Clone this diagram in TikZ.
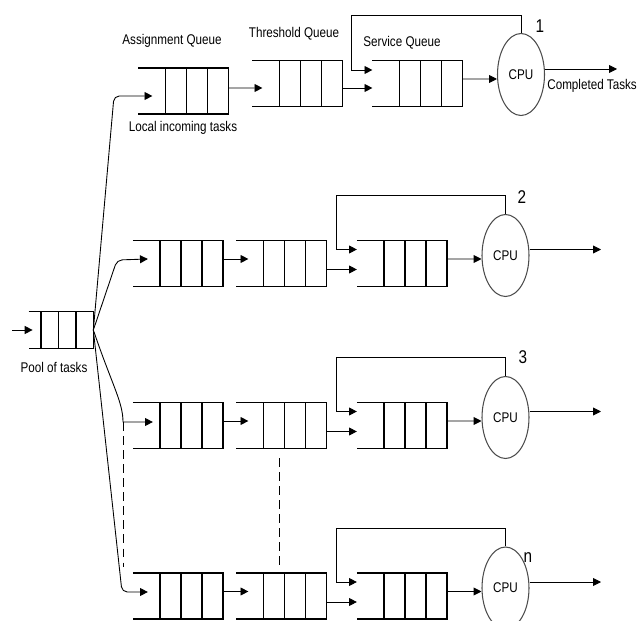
\documentclass[tikz,border=0pt]{standalone}
\usepackage{fontspec}
\setmainfont{Liberation Sans}
\newfontfamily\narrowsans[FakeStretch=0.83]{Liberation Sans}
\usetikzlibrary{arrows.meta,shapes.geometric,calc}

\tikzset{
  queue/.style={minimum width=1.79cm, minimum height=0.9cm, inner sep=0pt},
  qline/.style={line width=0.8pt},
  arr/.style={line width=0.5pt, -{Triangle[length=4.5pt,width=4.5pt]}},
  cpu/.style={ellipse, draw=black!70, line width=0.6pt, minimum width=0.94cm,
    minimum height=1.64cm, inner sep=0pt, font=\narrowsans\fontsize{8}{9}\selectfont},
  lbl/.style={font=\narrowsans\fontsize{8}{9}\selectfont, inner sep=0pt},
  num/.style={font=\narrowsans\fontsize{10.5}{11}\selectfont, inner sep=0pt},
}

% top, bottom and right side of a queue, plus its cells
\newcommand{\queuelines}[2]{%
  \draw[qline] (#1.north west) -- (#1.north east) -- (#1.south east) -- (#1.south west);
  \foreach \k in {1,2,3}
    \draw[qline] ($(#1.north east)-(\k*#2,0)$) -- ($(#1.south east)-(\k*#2,0)$);
}

\begin{document}
\begin{tikzpicture}[x=0.02cm, y=-0.02cm]
    \useasboundingbox (0,0) rectangle (639,621);

    % Pool of tasks
    \node[queue, minimum width=1.28cm, minimum height=0.72cm] (pool) at (61,330) {};
    \queuelines{pool}{17.5}
    \coordinate (in) at (12,330);
    \draw[arr] (in) -- ($(pool.west)+(4,0)$);
    \node[lbl] (pooltxt) at (54,367) {Pool of tasks};

    % Processor 1
    \node[queue] (a1) at (183.5,91) {};
    \node[queue] (t1) at (297.5,83.5) {};
    \node[queue] (s1) at (417.5,83.5) {};
    \node[cpu] (c1) at (521,74.5) {CPU};
    \foreach \q in {a1,t1,s1} \queuelines{\q}{21};

    \node[lbl] (alabel) at (172,41) {Assignment Queue};
    \node[lbl] (tlabel) at (294,34) {Threshold Queue};
    \node[lbl] (slabel) at (402,43) {Service Queue};
    \node[lbl] (local) at (183,128) {Local incoming tasks};
    \node[num] (n1) at (540,26) {1};

    \coordinate (b1) at (114,96);
    \draw[arr, rounded corners=3pt] (pool.east) -- (b1) -- ($(a1.west)+(14,5)$);
    \draw[arr] ($(a1.east)+(0,-3)$) -- ($(t1.west)+(10,4.5)$);
    \coordinate (f1) at ($(s1.west)+(-21,-68.5)$);
    \draw[arr] (c1.north) |- (f1) |- ($(s1.west)+(0,-13.5)$);
    \draw[arr] ($(t1.east)+(0,4.5)$) -- ($(s1.west)+(0,4.5)$);
    \draw[arr] ($(s1.east)+(0,-4.5)$) -- ($(c1.west)+(0,4.5)$);
    \coordinate (o1) at (617,69);
    \draw[arr] (c1.east |- o1) -- (o1);
    \node[lbl, anchor=west] (done) at (547,86) {Completed Tasks};

    % Processors 2, 3 and n
    \foreach \i/\Y/\ox in {2/263.5/601, 3/425.5/601, 4/596/601} {
        \node[queue] (a\i) at (178,\Y) {};
        \node[queue] (t\i) at (281.5,\Y) {};
        \node[queue] (s\i) at (402,\Y) {};
        \node[cpu] (c\i) at (505.5,\Y-8) {CPU};
        \foreach \q in {a\i,t\i,s\i} \queuelines{\q}{21};

        \draw[arr] ($(a\i.east)+(0,-4.5)$) -- ($(t\i.west)+(12,-4.5)$);
        \coordinate (f\i) at ($(s\i.west)+(-20,-68)$);
        \draw[arr] (c\i.north) |- (f\i) |- ($(s\i.west)+(0,-14)$);
        \draw[arr] ($(t\i.east)+(0,6)$) -- ($(s\i.west)+(0,6)$);
        \draw[arr] ($(s\i.east)+(0,-4.5)$) -- ($(c\i.west)+(0,3.5)$);
        \coordinate (o\i) at (\ox,\Y-14);
        \draw[arr] (c\i.east |- o\i) -- (o\i);
    }
    \node[num] (n2) at (522,197) {2};
    \node[num] (n3) at (523,357) {3};
    \node[num] (n4) at (528,558) {n};

    % Fan out from the pool
    \coordinate (b2) at (117,260);
    \draw[arr, rounded corners=3pt] (pool.east) -- (b2) -- ($(a2.west)+(15,-4.5)$);
    \coordinate (b3) at (123,422);
    \draw[arr] (pool.east) .. controls (112,385) and (123,402) .. (b3) -- ($(a3.west)+(20,-3.5)$);
    \coordinate (b4) at (122,592);
    \draw[arr, rounded corners=3pt] (pool.east) -- (b4) -- ($(a4.west)+(15,-4)$);

    % Dots between processor 3 and n
    \coordinate (d1) at (123,567);
    \draw[dashed, dash pattern=on 5pt off 3pt] (b3) -- (d1);
    \coordinate (d2) at (279,458);
    \coordinate (d3) at (279,566);
    \draw[dashed, dash pattern=on 5pt off 3pt] (d2) -- (d3);

\end{tikzpicture}
\end{document}
